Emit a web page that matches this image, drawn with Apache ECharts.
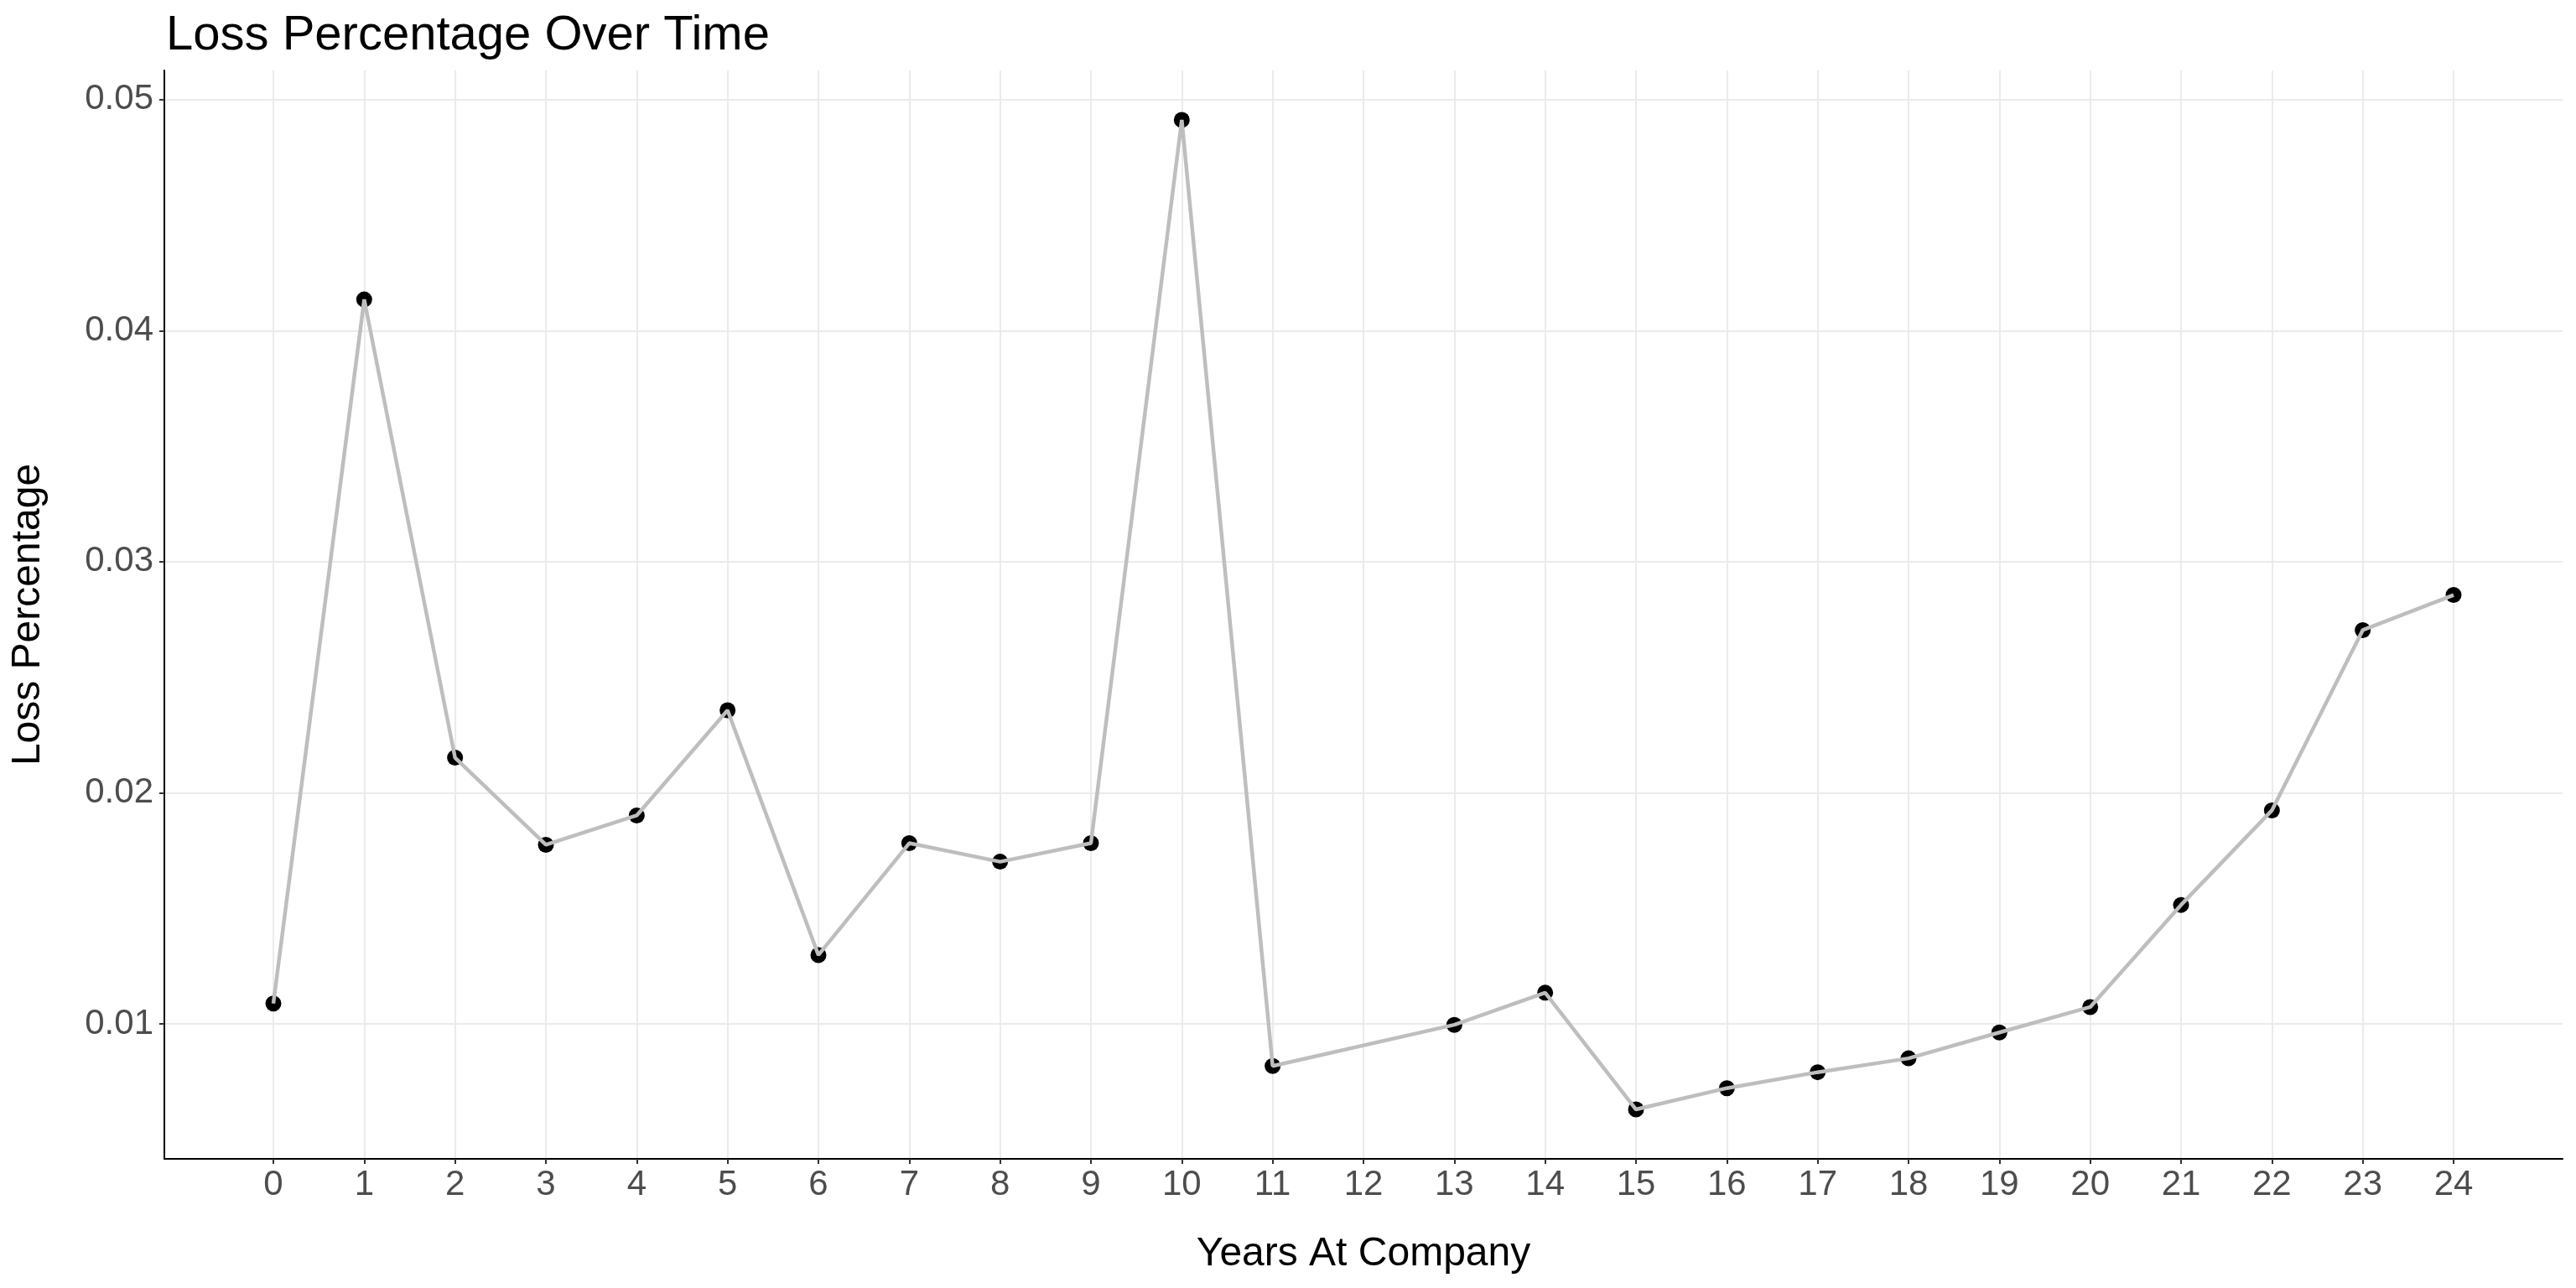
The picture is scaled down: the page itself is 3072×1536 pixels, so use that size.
<!DOCTYPE html>
<html>
<head>
<meta charset="utf-8">
<title>Loss Percentage Over Time</title>
<script src="https://cdn.jsdelivr.net/npm/echarts@6/dist/echarts.min.js"></script>
<style>
  html, body { margin: 0; padding: 0; background: #ffffff; }
  #main { width: 3072px; height: 1536px; }
</style>
</head>
<body>
<div id="main"></div>
<script>
// years at company (12 is missing in the data)
const years = [0, 1, 2, 3, 4, 5, 6, 7, 8, 9, 10, 11, 13, 14, 15, 16, 17, 18, 19, 20, 21, 22, 23, 24];
const lossPct = [0.01088, 0.04135, 0.02152, 0.01775, 0.01902, 0.02357, 0.01298, 0.01782,
  0.01702, 0.01782, 0.04912, 0.00818, 0.00996, 0.01135, 0.00630, 0.00722, 0.00791,
  0.00851, 0.00963, 0.01073, 0.01515, 0.01924, 0.02704, 0.02856];
const xTicks = [0, 1, 2, 3, 4, 5, 6, 7, 8, 9, 10, 11, 12, 13, 14, 15, 16, 17, 18, 19, 20, 21, 22, 23, 24];
const yTicks = [0.01, 0.02, 0.03, 0.04, 0.05];

const points = years.map((y, i) => [y, lossPct[i]]);
const font = 'Liberation Sans, Arial, sans-serif';

let myChart = echarts.init(document.getElementById('main'));
let option = {
  backgroundColor: '#ffffff',
  animation: false,
  title: {
    text: 'Loss Percentage Over Time',
    left: 193,
    top: 9,
    textStyle: { fontFamily: font, fontSize: 58, fontWeight: 'normal', color: '#000000' }
  },
  grid: { left: 196, right: 16, top: 84, bottom: 154, containLabel: false },
  xAxis: {
    type: 'value',
    min: -1.2,
    max: 25.2,
    name: 'Years At Company',
    nameLocation: 'middle',
    nameGap: 90,
    nameTextStyle: { fontFamily: font, fontSize: 48, color: '#000000' },
    axisLine: { show: true, onZero: false, lineStyle: { color: '#000000', width: 2 } },
    axisTick: { show: true, length: 6, customValues: xTicks, lineStyle: { color: '#333333', width: 2 } },
    axisLabel: { customValues: xTicks, margin: 10, fontFamily: font, fontSize: 42, color: '#4d4d4d' },
    splitLine: { show: true, customValues: xTicks, lineStyle: { color: '#ebebeb', width: 2 } }
  },
  yAxis: {
    type: 'value',
    min: 0.00416,
    max: 0.05126,
    name: 'Loss Percentage',
    nameLocation: 'middle',
    nameGap: 138,
    nameTextStyle: { fontFamily: font, fontSize: 48, color: '#000000' },
    axisLine: { show: true, onZero: false, lineStyle: { color: '#000000', width: 2 } },
    axisTick: { show: true, length: 6, customValues: yTicks, lineStyle: { color: '#333333', width: 2 } },
    axisLabel: {
      customValues: yTicks,
      margin: 13,
      fontFamily: font,
      fontSize: 42,
      color: '#4d4d4d',
      formatter: function (v) { return v.toFixed(2); }
    },
    splitLine: { show: true, customValues: yTicks, lineStyle: { color: '#ebebeb', width: 2 } }
  },
  series: [{
    type: 'scatter',
    data: points,
    symbol: 'circle',
    symbolSize: 19,
    itemStyle: { color: '#000000', opacity: 1 },
    z: 2
  }, {
    type: 'line',
    data: points,
    showSymbol: false,
    lineStyle: { color: '#bebebe', width: 4.5 },
    z: 3
  }]
};
myChart.setOption(option);
</script>
</body>
</html>
